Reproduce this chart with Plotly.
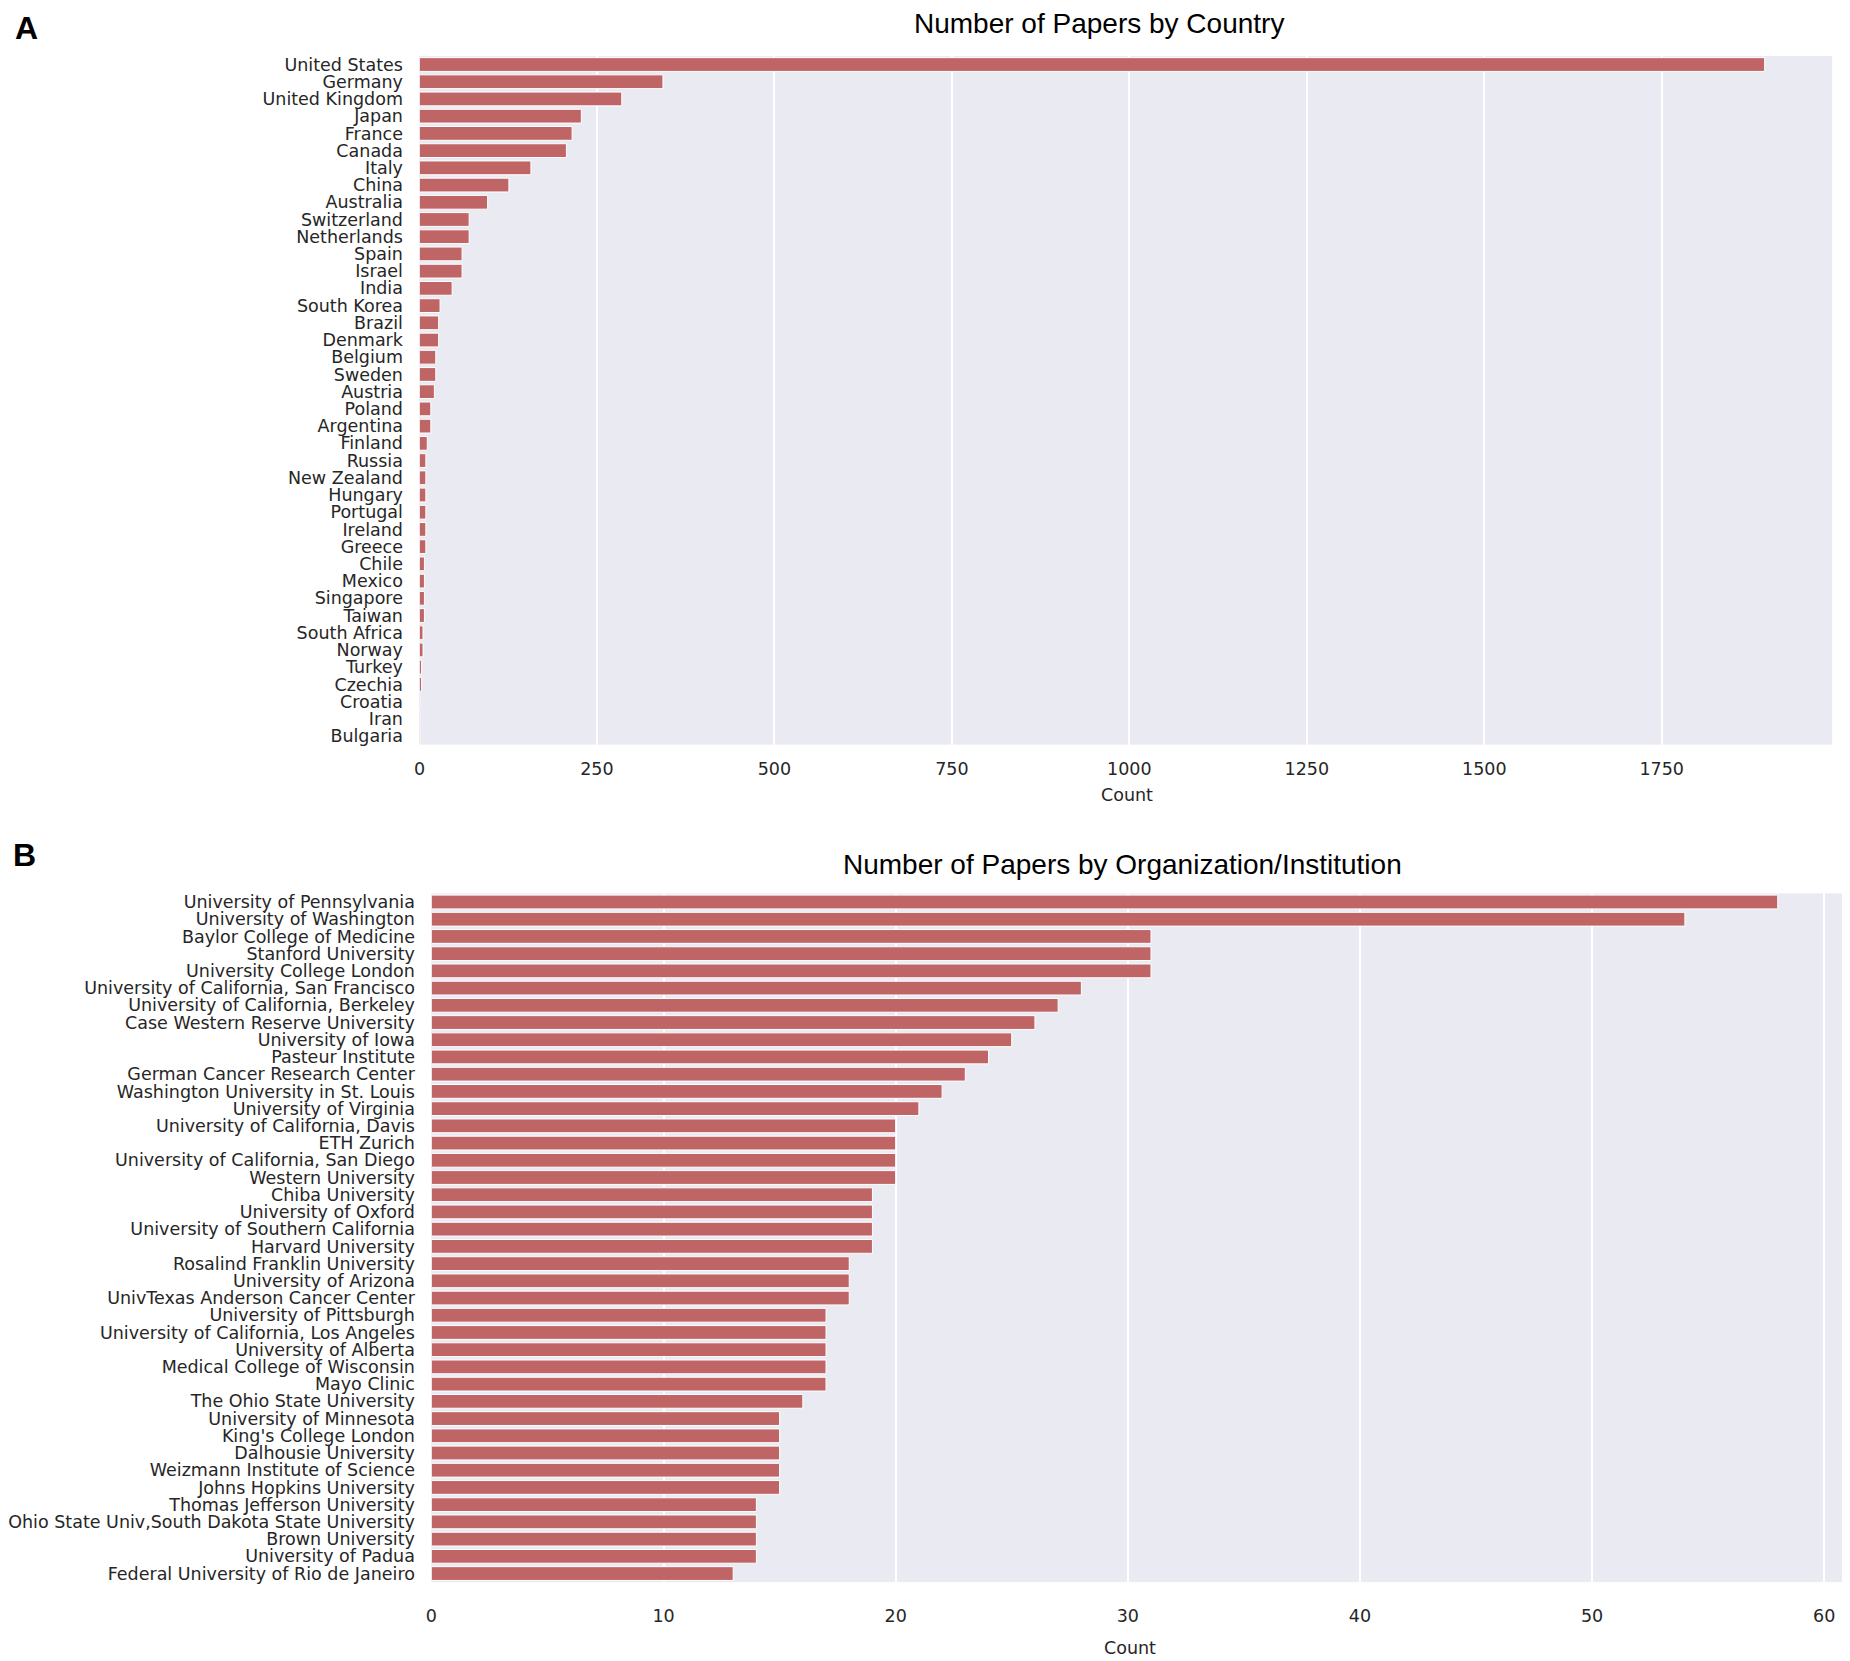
import plotly.graph_objects as go
from plotly.subplots import make_subplots

W, H = 1850, 1661
OFF = 8  # the page body adds an 8px margin, so positions below are shifted back by it

countries = ["United States", "Germany", "United Kingdom", "Japan", "France", "Canada",
             "Italy", "China", "Australia", "Switzerland", "Netherlands", "Spain", "Israel",
             "India", "South Korea", "Brazil", "Denmark", "Belgium", "Sweden", "Austria",
             "Poland", "Argentina", "Finland", "Russia", "New Zealand", "Hungary", "Portugal",
             "Ireland", "Greece", "Chile", "Mexico", "Singapore", "Taiwan", "South Africa",
             "Norway", "Turkey", "Czechia", "Croatia", "Iran", "Bulgaria"]
country_counts = [1895, 343, 285, 228, 215, 207, 157, 126, 96, 70, 70, 60, 60, 46, 29, 27,
                  27, 23, 23, 21, 16, 16, 11, 9, 9, 9, 9, 9, 9, 7, 7, 7, 7, 5, 5, 3, 3, 1, 1, 1]

orgs = ["University of Pennsylvania", "University of Washington", "Baylor College of Medicine",
        "Stanford University", "University College London", "University of California, San Francisco",
        "University of California, Berkeley", "Case Western Reserve University", "University of Iowa",
        "Pasteur Institute", "German Cancer Research Center", "Washington University in St. Louis",
        "University of Virginia", "University of California, Davis", "ETH Zurich",
        "University of California, San Diego", "Western University", "Chiba University",
        "University of Oxford", "University of Southern California", "Harvard University",
        "Rosalind Franklin University", "University of Arizona", "UnivTexas Anderson Cancer Center",
        "University of Pittsburgh", "University of California, Los Angeles", "University of Alberta",
        "Medical College of Wisconsin", "Mayo Clinic", "The Ohio State University",
        "University of Minnesota", "King's College London", "Dalhousie University",
        "Weizmann Institute of Science", "Johns Hopkins University", "Thomas Jefferson University",
        "Ohio State Univ,South Dakota State University", "Brown University", "University of Padua",
        "Federal University of Rio de Janeiro"]
org_counts = [58, 54, 31, 31, 31, 28, 27, 26, 25, 24, 23, 22, 21, 20, 20, 20, 20, 19, 19, 19,
              19, 18, 18, 18, 17, 17, 17, 17, 17, 16, 15, 15, 15, 15, 15, 14, 14, 14, 14, 13]

bar_color = "#C06566"
text_color = "#262626"
tick_font = dict(family="DejaVu Sans", size=17.5, color=text_color)


def px(x):
    return (x - OFF) / W


def py(y):
    return 1 - (y - OFF) / H


fig = make_subplots(rows=2, cols=1)

fig.add_trace(go.Bar(x=country_counts, y=countries, orientation="h",
                     marker=dict(color=bar_color, line=dict(color="white", width=1)),
                     showlegend=False), 1, 1)
fig.add_trace(go.Bar(x=org_counts, y=orgs, orientation="h",
                     marker=dict(color=bar_color, line=dict(color="white", width=1)),
                     showlegend=False), 2, 1)

fig.update_layout(
    width=W, height=H,
    margin=dict(l=0, r=0, t=0, b=0),
    paper_bgcolor="white",
    plot_bgcolor="#EAEAF2",
    bargap=0.2,
)

fig.update_xaxes(showgrid=True, gridcolor="white", gridwidth=1.5, zeroline=False,
                 showline=False, ticks="outside", tickcolor="rgba(0,0,0,0)",
                 tickfont=tick_font)
fig.update_yaxes(showgrid=False, zeroline=False, showline=False, autorange="reversed",
                 ticks="outside", tickcolor="rgba(0,0,0,0)", ticklen=12, tickfont=tick_font)

fig.update_layout(
    xaxis=dict(domain=[px(414), px(1832)], range=[0, 1990], dtick=250, ticklen=8),
    yaxis=dict(domain=[py(745), py(55)], tickmode="array", tickvals=countries,
               ticktext=countries),
    xaxis2=dict(domain=[px(426), px(1845)], range=[0, 60.9], dtick=10, ticklen=18),
    yaxis2=dict(domain=[py(1584), py(894)], tickmode="array", tickvals=orgs,
                ticktext=orgs),
)

title_font = dict(family="Liberation Sans, Arial", size=28, color="black")
letter_font = dict(family="Liberation Sans, Arial", size=32, color="black", weight="bold")
label_font = dict(family="DejaVu Sans", size=17.5, color=text_color)

annots = [
    ("Number of Papers by Country", 1096, 23, title_font),
    ("Number of Papers by Organization/Institution", 1120, 865, title_font),
    ("A", 20, 27, letter_font),
    ("B", 18, 856, letter_font),
    ("Count", 1124, 795, label_font),
    ("Count", 1127, 1650, label_font),
]
for text, x, y, font in annots:
    fig.add_annotation(text=text, x=px(x), y=py(y), xref="paper", yref="paper",
                       xanchor="center", yanchor="middle", showarrow=False, font=font)

fig.write_html("out.html")
